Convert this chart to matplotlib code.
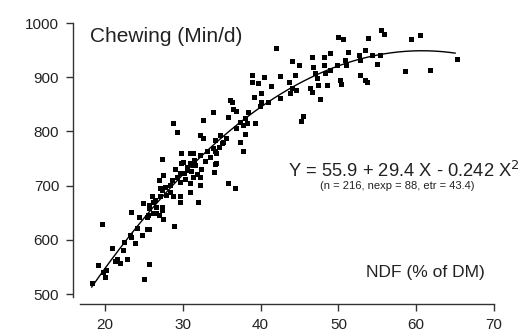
import numpy as np
import matplotlib
matplotlib.use('Agg')
import matplotlib.pyplot as plt

plt.rcParams['font.family'] = ['Liberation Sans', 'DejaVu Sans']

# NDF (% of DM) vs chewing time (min/d)
ndf = [18.4, 19.1, 19.6, 20.0, 20.1, 19.8, 20.9, 21.3, 21.5, 21.9, 22.8, 22.3, 22.5, 23.4,
       24.4, 23.9, 23.4, 23.2, 24.9, 25.4, 25.6, 25.0, 28.9, 27.5, 26.6, 26.4, 27.1, 27.3,
       26.9, 27.5, 28.8, 29.6, 30.0, 29.6, 30.5, 30.9, 31.9, 32.2, 32.2, 32.4, 31.3, 34.1,
       34.0, 35.8, 36.7, 26.2, 25.6, 26.6, 27.3, 25.5, 26.2, 26.9, 24.1, 25.7, 24.8,
       28.8, 29.2, 32.6, 32.2, 32.6, 34.8, 35.6, 35.0, 34.6, 34.1, 35.2, 38.0, 37.4, 37.8,
       36.9, 38.2, 29.8, 30.9, 32.2, 33.1, 33.5, 27.3, 29.8, 30.9, 31.6, 34.3, 30.1, 29.2,
       28.6, 29.6, 30.3, 31.3, 27.7, 28.4, 27.1, 30.9, 29.6, 28.4, 27.9, 26.0, 25.6, 27.3,
       25.4,
       38.9, 40.4, 38.9, 39.7, 41.4, 42.5, 43.6, 44.4, 44.9, 44.0, 40.1, 39.1, 40.1, 41.0,
       42.5, 43.8, 44.6, 36.3, 36.4, 36.9, 33.9, 35.8, 38.4, 38.0, 37.4, 37.8, 39.3,
       34.1, 33.9, 34.3, 31.3, 31.0, 31.8, 30.6, 29.0, 32.8, 31.5,
       49.9, 50.6, 53.8, 55.5, 55.8, 48.9, 51.3, 52.7, 53.4, 54.3, 46.6, 48.1, 46.8, 48.1,
       48.9, 49.8, 50.8, 51.0, 52.8, 54.9, 47.0, 47.2, 48.3, 44.0, 46.3, 46.6, 47.4, 48.5,
       50.2, 50.4, 52.8, 53.4, 53.7, 47.6, 45.5, 45.2,
       59.3, 60.5, 65.2, 58.6, 61.8, 55.3, 42.0, 39.9, 36.1]
chewing = [521, 553, 630, 531, 544, 541, 585, 560, 565, 557, 565, 581, 596, 652,
           643, 594, 606, 609, 667, 620, 555, 527, 625, 638, 649, 673, 680, 692,
           710, 720, 680, 723, 744, 670, 729, 704, 670, 701, 716, 730, 738, 740,
           726, 704, 695, 670, 664, 661, 661, 646, 649, 646, 621, 620, 608,
           815, 799, 821, 793, 787, 793, 787, 778, 772, 763, 781, 796, 781, 763,
           806, 815, 760, 760, 756, 763, 753, 750, 741, 741, 738, 741, 723, 716,
           710, 707, 713, 716, 698, 701, 695, 689, 680, 689, 683, 680, 658, 655,
           643,
           904, 901, 892, 889, 884, 902, 892, 904, 923, 929, 870, 864, 855, 855,
           861, 870, 876, 855, 841, 838, 835, 826, 836, 824, 818, 812, 815,
           784, 769, 760, 760, 727, 722, 735, 730, 745, 748,
           975, 970, 972, 987, 980, 944, 946, 941, 950, 941, 937, 937, 919, 923,
           913, 923, 932, 923, 932, 924, 907, 898, 907, 880, 880, 873, 886, 886,
           895, 887, 904, 895, 892, 859, 828, 819,
           970, 978, 934, 912, 913, 941, 954, 846, 858]

# fitted curve Y = 55.9 + 29.4 X - 0.242 X^2
coef = [55.9, 29.4, -0.242]
xfit = np.linspace(18.3, 65, 200)
yfit = coef[0] + coef[1] * xfit + coef[2] * xfit ** 2

fig = plt.figure(figsize=(5.21, 3.36), dpi=100)
ax = fig.add_axes([0.1536, 0.1161, 0.7946, 0.8154])

ax.plot(ndf, chewing, 's', color='black', markersize=3.6, markeredgewidth=0)
ax.plot(xfit, yfit, color='black', lw=1.0)

ax.set_xlim(16.8, 70)
ax.set_ylim(494.5, 1000)
ax.set_xticks([20, 30, 40, 50, 60, 70])
ax.set_yticks([500, 600, 700, 800, 900, 1000])

for s in ['top', 'right']:
    ax.spines[s].set_visible(False)
ax.spines['left'].set_position(('outward', 5))
ax.spines['bottom'].set_position(('outward', 5))
ax.spines['left'].set_bounds(494.5, 1000)
ax.spines['bottom'].set_bounds(16.8, 70)
for s in ['left', 'bottom']:
    ax.spines[s].set_color('#333333')
    ax.spines[s].set_linewidth(1.0)
ax.tick_params(axis='both', length=5, width=1.0, color='#333333',
               labelsize=11, labelcolor='#222222', pad=5)

ax.text(18.1, 975, 'Chewing (Min/d)', fontsize=15, color='#222222', va='center', ha='left')
fig.text(425 / 521, 1 - 272 / 336, 'NDF (% of DM)', fontsize=12.5, color='#222222',
         ha='center', va='center')
fig.text(520 / 521, 1 - 171 / 336, 'Y = 55.9 + 29.4 X - 0.242 X$^{2}$', fontsize=13.2,
         color='#222222', ha='right', va='center')
fig.text(397 / 521, 1 - 186 / 336, '(n = 216, nexp = 88, etr = 43.4)', fontsize=8,
         color='#222222', ha='center', va='center')

fig.savefig('out.png', dpi=100)
